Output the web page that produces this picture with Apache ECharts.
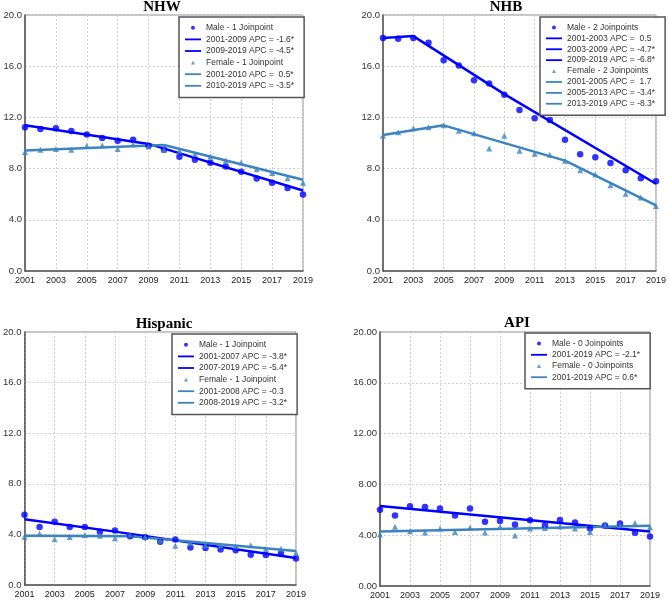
<!DOCTYPE html>
<html>
<head>
<meta charset="utf-8">
<script src="https://cdn.jsdelivr.net/npm/echarts@6/dist/echarts.min.js"></script>
<style>
html,body{margin:0;padding:0;background:#fff;}
#c{width:669px;height:601px;}
</style>
</head>
<body>
<div id="c"></div>
<script>
// ---------------- DATA ----------------
const years = ['2001','2002','2003','2004','2005','2006','2007','2008','2009','2010','2011','2012','2013','2014','2015','2016','2017','2018','2019'];
const yTicks = [0, 4, 8, 12, 16, 20];

const panelTitles = ['NHW', 'NHB', 'Hispanic', 'API'];

// NHW
const nhwMale   = [11.23,11.1,11.15,10.94,10.66,10.4,10.17,10.25,9.78,9.47,8.92,8.69,8.45,8.17,7.75,7.23,6.9,6.48,5.98];
const nhwFemale = [9.3,9.47,9.53,9.47,9.78,9.83,9.53,9.9,9.73,9.47,9.38,9.15,8.95,8.63,8.47,7.95,7.65,7.25,6.9];
const nhwMaleJoinYears = ['2001','2009','2019'];
const nhwMaleJoinVals  = [11.38, 9.93, 6.29];
const nhwFemaleJoinYears = ['2001','2010','2019'];
const nhwFemaleJoinVals  = [9.41, 9.85, 7.13];
const nhwMaleLabel = 'Male - 1 Joinpoint';
const nhwFemaleLabel = 'Female - 1 Joinpoint';
const nhwMaleSegLabels = ['2001-2009 APC = -1.6*', '2009-2019 APC = -4.5*'];
const nhwFemaleSegLabels = ['2001-2010 APC =  0.5*', '2010-2019 APC = -3.5*'];

// NHB
const nhbMale   = [18.2,18.15,18.2,17.84,16.47,16.05,14.91,14.65,13.77,12.58,11.93,11.8,10.25,9.13,8.88,8.44,7.87,7.24,7.01];
const nhbFemale = [10.56,10.84,11.16,11.23,11.39,10.95,10.77,9.58,10.56,9.4,9.16,9.08,8.62,7.87,7.53,6.7,6.03,5.74,5.07];
const nhbMaleJoinYears = ['2001','2003','2009','2019'];
const nhbMaleJoinVals  = [18.2, 18.35, 13.82, 6.82];
const nhbFemaleJoinYears = ['2001','2005','2013','2019'];
const nhbFemaleJoinVals  = [10.62, 11.38, 8.62, 5.12];
const nhbMaleLabel = 'Male - 2 Joinpoints';
const nhbFemaleLabel = 'Female - 2 Joinpoints';
const nhbMaleSegLabels = ['2001-2003 APC =  0.5', '2003-2009 APC = -4.7*', '2009-2019 APC = -6.8*'];
const nhbFemaleSegLabels = ['2001-2005 APC =  1.7', '2005-2013 APC = -3.4*', '2013-2019 APC = -8.3*'];

// Hispanic
const hisMale   = [5.56,4.58,5.0,4.58,4.58,4.21,4.3,3.85,3.77,3.41,3.6,2.97,2.92,2.8,2.74,2.4,2.37,2.49,2.1];
const hisFemale = [3.82,4.06,3.62,3.8,3.94,3.89,3.7,4.0,3.8,3.52,3.1,3.33,3.15,3.14,3.07,3.15,2.85,2.86,2.52];
const hisMaleJoinYears = ['2001','2007','2019'];
const hisMaleJoinVals  = [5.2, 4.22, 2.13];
const hisFemaleJoinYears = ['2001','2008','2019'];
const hisFemaleJoinVals  = [3.9, 3.85, 2.68];
const hisMaleLabel = 'Male - 1 Joinpoint';
const hisFemaleLabel = 'Female - 1 Joinpoint';
const hisMaleSegLabels = ['2001-2007 APC = -3.8*', '2007-2019 APC = -5.4*'];
const hisFemaleSegLabels = ['2001-2008 APC = -0.3', '2008-2019 APC = -3.2*'];

// API
const apiMale   = [6.0,5.55,6.28,6.23,6.1,5.56,6.1,5.06,5.11,4.85,5.18,4.79,5.19,5.0,4.52,4.77,4.92,4.19,3.9];
const apiFemale = [4.06,4.66,4.32,4.22,4.53,4.26,4.61,4.22,4.66,3.98,4.52,4.56,4.69,4.52,4.26,4.8,4.78,4.96,4.63];
const apiMaleJoinYears = ['2001','2019'];
const apiMaleJoinVals  = [6.29, 4.29];
const apiFemaleJoinYears = ['2001','2019'];
const apiFemaleJoinVals  = [4.3, 4.75];
const apiMaleLabel = 'Male - 0 Joinpoints';
const apiFemaleLabel = 'Female - 0 Joinpoints';
const apiMaleSegLabels = ['2001-2019 APC = -2.1*'];
const apiFemaleSegLabels = ['2001-2019 APC = 0.6*'];

// ---------------- LAYOUT / STYLE ----------------
const MALE = '#0000ff';
const FEMALE = '#3d84bf';

// legend icons sized to a 16x5 box
const ICON_LINE = 'path://M0,0 M16,5 M0,1.6 L16,1.6 L16,3.4 L0,3.4 Z';
const ICON_DOT = 'path://M0,0 M16,5 M8,0.5 A2,2 0 1 1 7.99,0.5 Z';
const ICON_TRI = 'path://M0,0 M16,5 M8,0.6 L10,4.4 L6,4.4 Z';

const grids = [
  {left: 25,  top: 15,  width: 278, height: 256},
  {left: 383, top: 15,  width: 277, height: 256},
  {left: 19,  top: 332, width: 277, height: 253},
  {left: 380, top: 332, width: 270, height: 254}
];
const titlePos = [
  {x: 162, y: 0},
  {x: 506, y: 0},
  {x: 164, y: 317},
  {x: 517, y: 316}
];
const legendPos = [
  {x: 179, y: 17, lh: 11.6},
  {x: 540, y: 17, lh: 10.9},
  {x: 172, y: 334, lh: 11.6},
  {x: 525, y: 333, lh: 11.2}
];
const yDecimals = [1, 1, 1, 2];

const panels = [
  {male: nhwMale, female: nhwFemale, mJY: nhwMaleJoinYears, mJV: nhwMaleJoinVals, fJY: nhwFemaleJoinYears, fJV: nhwFemaleJoinVals, mL: nhwMaleLabel, fL: nhwFemaleLabel, mS: nhwMaleSegLabels, fS: nhwFemaleSegLabels},
  {male: nhbMale, female: nhbFemale, mJY: nhbMaleJoinYears, mJV: nhbMaleJoinVals, fJY: nhbFemaleJoinYears, fJV: nhbFemaleJoinVals, mL: nhbMaleLabel, fL: nhbFemaleLabel, mS: nhbMaleSegLabels, fS: nhbFemaleSegLabels},
  {male: hisMale, female: hisFemale, mJY: hisMaleJoinYears, mJV: hisMaleJoinVals, fJY: hisFemaleJoinYears, fJV: hisFemaleJoinVals, mL: hisMaleLabel, fL: hisFemaleLabel, mS: hisMaleSegLabels, fS: hisFemaleSegLabels},
  {male: apiMale, female: apiFemale, mJY: apiMaleJoinYears, mJV: apiMaleJoinVals, fJY: apiFemaleJoinYears, fJV: apiFemaleJoinVals, mL: apiMaleLabel, fL: apiFemaleLabel, mS: apiMaleSegLabels, fS: apiFemaleSegLabels}
];

function segData(joinYears, joinVals, i) {
  const d = years.map(() => null);
  d[years.indexOf(joinYears[i])] = joinVals[i];
  d[years.indexOf(joinYears[i + 1])] = joinVals[i + 1];
  return d;
}

const option = {
  animation: false,
  backgroundColor: '#fff',
  title: [], legend: [], grid: [], xAxis: [], yAxis: [], series: []
};

panels.forEach((p, k) => {
  option.grid.push(Object.assign({show: true, borderColor: '#8a8a8a', borderWidth: 1, containLabel: false}, grids[k]));
  option.title.push({
    text: panelTitles[k], left: titlePos[k].x, top: titlePos[k].y, textAlign: 'center', padding: 0,
    textStyle: {fontFamily: 'Liberation Serif', fontWeight: 'bold', fontSize: 15, color: '#000'}
  });
  option.xAxis.push({
    type: 'category', gridIndex: k, data: years, boundaryGap: false,
    axisLine: {show: true, lineStyle: {color: '#555', width: 1.5}},
    axisTick: {show: false},
    axisLabel: {interval: 1, margin: 5, fontFamily: 'Liberation Sans', fontSize: 9, color: '#222'},
    splitLine: {show: true, interval: 1, lineStyle: {color: '#cfcfcf', type: [2, 2], width: 1}}
  });
  option.yAxis.push({
    type: 'value', gridIndex: k, min: yTicks[0], max: yTicks[yTicks.length - 1], interval: yTicks[1] - yTicks[0],
    axisLine: {show: true, lineStyle: {color: '#555', width: 1.5}},
    axisTick: {show: false},
    axisLabel: {margin: 3, fontFamily: 'Liberation Sans', fontSize: 9.5, color: '#333',
      formatter: v => v.toFixed(yDecimals[k])},
    splitLine: {show: true, lineStyle: {color: '#cfcfcf', type: [2, 2], width: 1}}
  });

  const legendData = [];
  option.series.push({
    type: 'scatter', name: p.mL, xAxisIndex: k, yAxisIndex: k, data: p.male,
    symbol: 'circle', symbolSize: 6.5, itemStyle: {color: MALE}, z: 4
  });
  legendData.push({name: p.mL, icon: ICON_DOT});
  p.mS.forEach((lab, i) => {
    option.series.push({
      type: 'line', name: lab, xAxisIndex: k, yAxisIndex: k, data: segData(p.mJY, p.mJV, i),
      connectNulls: true, symbol: 'none', showSymbol: false,
      lineStyle: {color: MALE, width: 2.5}, itemStyle: {color: MALE}, z: 3
    });
    legendData.push({name: lab, icon: ICON_LINE});
  });
  option.series.push({
    type: 'scatter', name: p.fL, xAxisIndex: k, yAxisIndex: k, data: p.female,
    symbol: 'triangle', symbolSize: 6, itemStyle: {color: FEMALE}, z: 4
  });
  legendData.push({name: p.fL, icon: ICON_TRI});
  p.fS.forEach((lab, i) => {
    option.series.push({
      type: 'line', name: lab, xAxisIndex: k, yAxisIndex: k, data: segData(p.fJY, p.fJV, i),
      connectNulls: true, symbol: 'none', showSymbol: false,
      lineStyle: {color: FEMALE, width: 2.5}, itemStyle: {color: FEMALE}, z: 3
    });
    legendData.push({name: lab, icon: ICON_LINE});
  });

  option.legend.push({
    data: legendData, orient: 'vertical', left: legendPos[k].x, top: legendPos[k].y,
    selectedMode: false, itemWidth: 16, itemHeight: 5, itemGap: 0,
    padding: [5, 10, 6, 6], backgroundColor: '#fff', borderColor: '#555', borderWidth: 1.5,
    textStyle: {fontFamily: 'Liberation Sans', fontSize: 8.5, lineHeight: legendPos[k].lh, color: '#333'}
  });
});

const chart = echarts.init(document.getElementById('c'), null, {renderer: 'canvas'});
chart.setOption(option);
</script>
</body>
</html>
